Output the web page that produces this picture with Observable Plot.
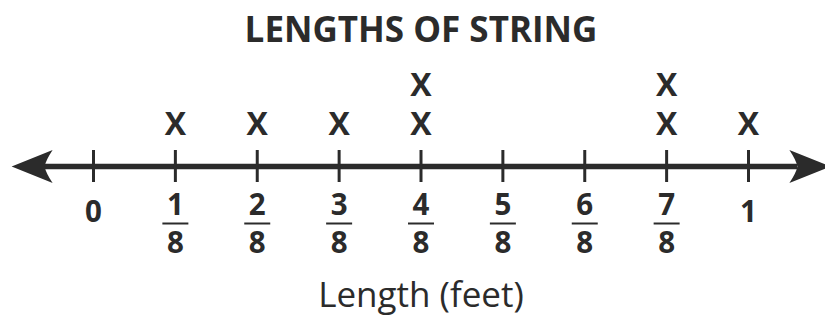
<!DOCTYPE html>
<html>
<head>
<meta charset="utf-8">
<script src="https://cdn.jsdelivr.net/npm/d3@7"></script>
<script src="https://cdn.jsdelivr.net/npm/@observablehq/plot@0.6"></script>
<style>
  body { margin: 0; background: #fff; }
  svg { display: block; }
</style>
</head>
<body>
<div id="chart"></div>
<script>
// Line plot of string lengths, measured in eighths of a foot.
const title = "LENGTHS OF STRING";
const axisLabel = "Length (feet)";

// Tick positions on the number line (in eighths of a foot)
const tickEighths = [0, 1, 2, 3, 4, 5, 6, 7, 8];
// Whole-number labels and fraction labels
const wholeTicks = [0, 8];
const wholeLabels = ["0", "1"];
const fractionTicks = [1, 2, 3, 4, 5, 6, 7];
const numerators = ["1", "2", "3", "4", "5", "6", "7"];
const denominators = ["8", "8", "8", "8", "8", "8", "8"];

// One entry per measured string (eighths of a foot)
const lengths = [1, 2, 3, 4, 4, 7, 7, 8];

// The number line runs one eighth past each end, with arrowheads
const lineEnds = [-1, 9];

const ink = "#2b2b2b";
const font = "'Open Sans', 'DejaVu Sans', sans-serif";

// Stack repeated values: each X gets a level 1, 2, ...
const seen = new Map();
const marks = lengths.map(v => {
  const level = (seen.get(v) || 0) + 1;
  seen.set(v, level);
  return {length: v, level};
});

// Filled arrowhead with a slightly notched back; tip at the origin, pointing right
const arrowHead = {
  draw(context) {
    context.moveTo(0, 0);
    context.lineTo(-41, -16.5);
    context.quadraticCurveTo(-34, -6, -33, 0);
    context.quadraticCurveTo(-34, 6, -41, 16.5);
    context.closePath();
  }
};
// Short horizontal bar for fraction labels
const fractionBar = {
  draw(context) {
    context.rect(-13, -1, 26, 2);
  }
};

const arrows = [
  {x: lineEnds[0], angle: 180},
  {x: lineEnds[1], angle: 0}
];

const digitSize = 29.5;

const chart = Plot.plot({
  width: 825,
  height: 322,
  margin: 0,
  style: {background: "#fff", color: ink, fontFamily: font},
  x: {domain: [0, 8], range: [93, 748], axis: null},
  y: {domain: [0, 2], range: [166, 87], axis: null},
  marks: [
    // title and axis label
    Plot.text([title], {
      x: () => 4, frameAnchor: "top", lineAnchor: "middle", dy: 30,
      fontSize: 35, fontWeight: 700, fill: ink, fontFamily: font
    }),
    Plot.text([axisLabel], {
      x: () => 4, frameAnchor: "bottom", lineAnchor: "middle", dy: -27,
      fontSize: 35, fontWeight: 500, fill: ink, fontFamily: font
    }),
    // number line
    Plot.ruleY([0], {x1: lineEnds[0] + 0.4, x2: lineEnds[1] - 0.4, stroke: ink, strokeWidth: 5.5}),
    Plot.dot(arrows, {x: "x", y: () => 0, symbol: arrowHead, rotate: "angle", fill: ink, stroke: "none"}),
    // tick marks
    Plot.ruleX(tickEighths, {x: d => d, y1: () => 0, y2: () => 0, insetTop: -16, insetBottom: -16, stroke: ink, strokeWidth: 3}),
    // whole-number labels
    Plot.text(wholeTicks, {
      x: d => d, y: () => 0, text: (d, i) => wholeLabels[i], dy: 46,
      fontSize: digitSize, fontWeight: 700, fill: ink, fontFamily: font
    }),
    // fraction labels
    Plot.text(fractionTicks, {
      x: d => d, y: () => 0, text: (d, i) => numerators[i], dy: 39,
      fontSize: digitSize, fontWeight: 700, fill: ink, fontFamily: font
    }),
    Plot.dot(fractionTicks, {x: d => d, y: () => 0, dy: 57, symbol: fractionBar, fill: ink, stroke: "none"}),
    Plot.text(fractionTicks, {
      x: d => d, y: () => 0, text: (d, i) => denominators[i], dy: 77,
      fontSize: digitSize, fontWeight: 700, fill: ink, fontFamily: font
    }),
    // one X per string
    Plot.text(marks, {
      x: "length", y: "level", text: () => "X", dy: -2,
      fontSize: 32, fontWeight: 700, fill: ink, fontFamily: font
    })
  ]
});

document.getElementById("chart").append(chart);
</script>
</body>
</html>
